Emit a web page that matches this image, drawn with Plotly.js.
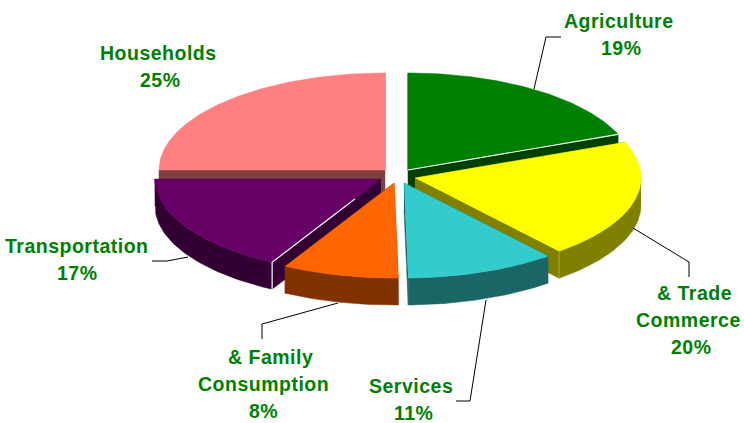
<!DOCTYPE html>
<html><head><meta charset="utf-8">
<script src="https://cdn.plot.ly/plotly-3.0.1.min.js"></script>
<style>html,body{margin:0;padding:0;background:#fff}#c{width:744px;height:423px}
.annotation-text{letter-spacing:0.5px}</style>
</head><body><div id="c"></div>
<script>
// Data
const categories = ["Agriculture","Commerce","Services","Consumption","Transportation","Households"];
const values = [19, 20, 10.7, 8.3, 17, 25];
const labelLines = [["Agriculture"],["& Trade","Commerce"],["Services"],["& Family","Consumption"],["Transportation"],["Households"]];

// Styles
const topColors  = ["#008000","#FFFF00","#33CCCC","#FF6600","#660066","#FF8080"];
const wallColors = ["#004000","#808000","#1A6666","#803300","#330033","#804040"];
// Exploded slice centres on the page
const centreX = [408,415,404,394,381,385];
const centreY = [170,178,183,183,179,170];
const RX = 226, RY_BACK = 97, RY_FRONT = 95, DEPTH = 27;
const drawOrder = [5,0,4,1,3,2];
// label placement
const labelX = [[619],[694,688],[410.5],[270,263],[77],[158]];
const pctX = [621,691,413,263,77,160];
const labelY = [21.2,293.2,385.5,357.2,246.2,53.2];
const LINE = 27;
const leaders = [
  [[534,89],[546,37],[561,37]],
  [[633,228],[689,262],[689,277]],
  [[486,300],[470,401],[456,401]],
  [[338,303],[262,324],[262,339]],
  [[188,257],[167,261],[152,261]]
];

const total = values.reduce((a,b)=>a+b,0);
let acc = 0;
const slices = values.map(v=>{const s=acc/total*2*Math.PI; acc+=v; return [s,acc/total*2*Math.PI];});
function pt(i,t,dy){
  const c=Math.cos(t), ry = c>=0?RY_BACK:RY_FRONT;
  return [centreX[i]+RX*Math.sin(t), centreY[i]-ry*c+(dy||0)];
}
function arc(i,a,b,dy){const n=Math.max(2,Math.ceil(Math.abs(b-a)*60)),o=[];for(let k=0;k<=n;k++)o.push(pt(i,a+(b-a)*k/n,dy));return o;}
function poly(pts,color,name){
  return {type:"scatter",mode:"lines",x:pts.map(p=>p[0]),y:pts.map(p=>p[1]),fill:"toself",fillcolor:color,
    line:{width:0.5,color:color},hoverinfo:"name",name:name,showlegend:false};
}
function line(pts,color,w){
  return {type:"scatter",mode:"lines",x:pts.map(p=>p[0]),y:pts.map(p=>p[1]),line:{width:w,color:color},hoverinfo:"skip",showlegend:false};
}
const traces=[];
drawOrder.forEach(i=>{
  const [a,b]=slices[i], w=wallColors[i], n=categories[i];
  const C=[centreX[i],centreY[i]], Cd=[C[0],C[1]+DEPTH];
  [a,b].forEach(t=>{
    const P=pt(i,t), Pd=pt(i,t,DEPTH);
    traces.push(poly([C,P,Pd,Cd],w,n));
  });
  const fa=Math.max(a,Math.PI/2), fb=Math.min(b,1.5*Math.PI);
  if(fb>fa){
    const top=arc(i,fa,fb,0), bot=arc(i,fb,fa,DEPTH);
    traces.push(poly(top.concat(bot),w,n));
  }
  traces.push(poly([C].concat(arc(i,a,b,0)),topColors[i],n));
});
const e0=pt(0,slices[0][1]);
traces.push(line([[centreX[0],centreY[0]],e0],"#FFFFFF",1.2));
const e4=pt(4,slices[4][0]);
const m=[e4[0]+(centreX[4]-e4[0])*0.76,e4[1]+(centreY[4]-e4[1])*0.76];
traces.push(line([m,e4,[e4[0],e4[1]+DEPTH+1]],"#FFFFFF",1.2));
const e1=pt(1,slices[1][1]);
traces.push(line([e1,[e1[0],e1[1]+DEPTH]],"#B5B560",0.7));

leaders.forEach(l=>traces.push(line(l,"#000000",1)));

const annotations=[];
const txt=(t,x,y)=>annotations.push({text:t,x:x,y:y,xref:"x",yref:"y",showarrow:false,xanchor:"center",yanchor:"middle",
  font:{family:"Liberation Sans, Arial, sans-serif",size:19.5,color:"#008000",weight:700}});
labelLines.forEach((ls,i)=>{
  ls.forEach((s,k)=>txt(s,labelX[i][k],labelY[i]+k*LINE));
  txt(Math.round(values[i])+"%",pctX[i],labelY[i]+ls.length*LINE);
});
Plotly.newPlot("c",traces,{
  width:744,height:423,margin:{l:0,r:0,t:0,b:0},paper_bgcolor:"#fff",plot_bgcolor:"#fff",showlegend:false,
  xaxis:{range:[0,744],visible:false,fixedrange:true},
  yaxis:{range:[423,0],visible:false,fixedrange:true},
  annotations:annotations
},{displayModeBar:false,staticPlot:true});
</script></body></html>
